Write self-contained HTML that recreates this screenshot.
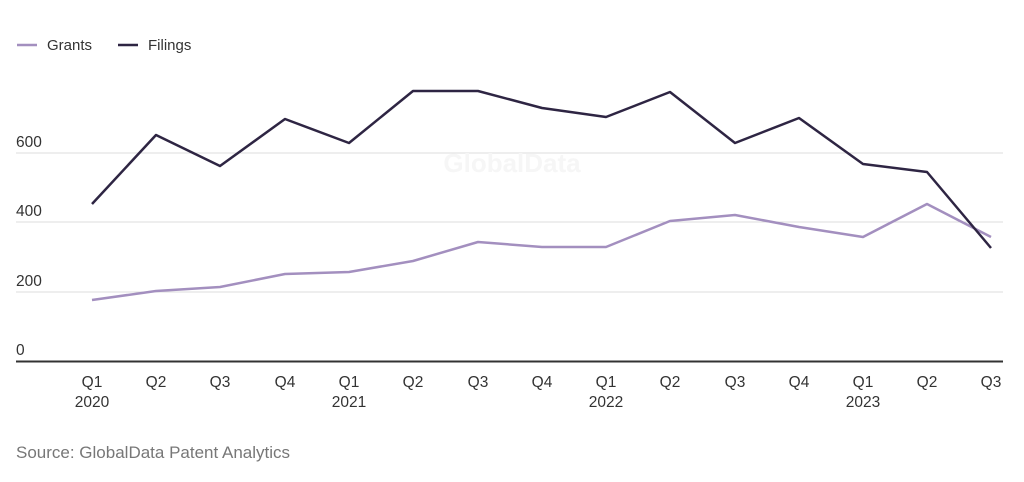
<!DOCTYPE html>
<html><head><style>
body{margin:0;background:#fff;width:1024px;height:477px;overflow:hidden;font-family:"Liberation Sans",sans-serif;}
</style></head><body>
<svg width="1024" height="477" xmlns="http://www.w3.org/2000/svg" font-family="Liberation Sans, sans-serif">
<line x1="17" y1="45" x2="37" y2="45" stroke="#a38fbf" stroke-width="2.5"/>
<text x="47" y="50" font-size="15" fill="#333">Grants</text>
<line x1="118" y1="45" x2="138" y2="45" stroke="#2e2543" stroke-width="2.5"/>
<text x="148" y="50" font-size="15" fill="#333">Filings</text>
<g stroke="#ddd" stroke-width="1">
<line x1="16" y1="153" x2="1003" y2="153"/>
<line x1="16" y1="222" x2="1003" y2="222"/>
<line x1="16" y1="292" x2="1003" y2="292"/>
</g>
<line x1="16" y1="361.5" x2="1003" y2="361.5" stroke="#333" stroke-width="2"/>
<g font-size="15.5" fill="#333">
<text x="16" y="147">600</text>
<text x="16" y="216">400</text>
<text x="16" y="286">200</text>
<text x="16" y="355">0</text>
</g>
<text x="512" y="172" font-size="26" font-weight="bold" fill="#f6f6f6" text-anchor="middle">GlobalData</text>
<polyline fill="none" stroke="#a38fbf" stroke-width="2.5" stroke-linejoin="round" points="92,300 156,291 220,287 285,274 349,272 413,261 478,242 542,247 606,247 670,221 735,215 799,227 863,237 927,204 991,237"/>
<polyline fill="none" stroke="#2e2543" stroke-width="2.5" stroke-linejoin="round" points="92,204 156,135 220,166 285,119 349,143 413,91 478,91 542,108 606,117 670,92 735,143 799,118 863,164 927,172 991,248"/>
<g font-size="15.5" fill="#333" text-anchor="middle">
<text x="92" y="387">Q1</text><text x="92" y="407">2020</text>
<text x="156" y="387">Q2</text><text x="220" y="387">Q3</text><text x="285" y="387">Q4</text>
<text x="349" y="387">Q1</text><text x="349" y="407">2021</text>
<text x="413" y="387">Q2</text><text x="478" y="387">Q3</text><text x="542" y="387">Q4</text>
<text x="606" y="387">Q1</text><text x="606" y="407">2022</text>
<text x="670" y="387">Q2</text><text x="735" y="387">Q3</text><text x="799" y="387">Q4</text>
<text x="863" y="387">Q1</text><text x="863" y="407">2023</text>
<text x="927" y="387">Q2</text><text x="991" y="387">Q3</text>
</g>
<text x="16" y="458" font-size="17" fill="#777">Source: GlobalData Patent Analytics</text>
</svg>
</body></html>
